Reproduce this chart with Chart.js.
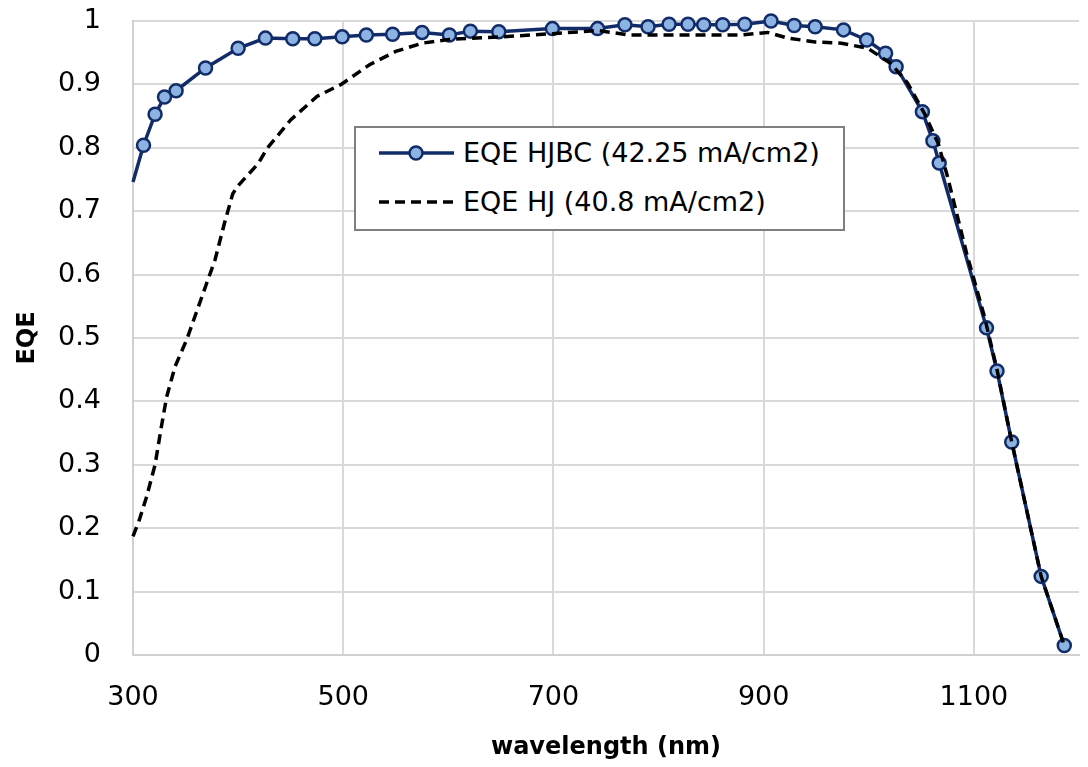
<!DOCTYPE html>
<html>
<head>
<meta charset="utf-8">
<script src="https://cdn.jsdelivr.net/npm/chart.js@4/dist/chart.umd.min.js"></script>
<style>
body { margin: 0; background: #fff; }
#wrap { position: relative; width: 1088px; height: 767px; }
#legend { position: absolute; left: 354px; top: 126px; width: 491px; height: 105px;
  border: 2px solid #7f7f7f; background: #fff; box-sizing: border-box;
  font-family: "DejaVu Sans", sans-serif; font-size: 27px; color: #000; }
#legend .row { position: absolute; left: 0; height: 32px; line-height: 32px; white-space: nowrap; }
#legend svg { position: absolute; left: 22px; top: 0; }
#legend span { position: absolute; left: 107px; top: 0; }
</style>
</head>
<body>
<div id="wrap">
  <canvas id="myChart" width="1088" height="767"></canvas>
  <div id="legend">
    <div class="row" style="top:9px">
      <svg width="80" height="32"><line x1="1" y1="16" x2="76" y2="16" stroke="#122c69" stroke-width="3.5"/><circle cx="38" cy="16" r="6.5" fill="#8db3e2" stroke="#122c69" stroke-width="2.5"/></svg>
      <span>EQE HJBC (42.25 mA/cm2)</span>
    </div>
    <div class="row" style="top:58px">
      <svg width="80" height="32"><line x1="1" y1="16" x2="76" y2="16" stroke="#000" stroke-width="3.5" stroke-dasharray="10,6"/></svg>
      <span>EQE HJ (40.8 mA/cm2)</span>
    </div>
  </div>
</div>
<script>
// EQE HJBC (with markers)
var hjbcWl  = [300, 310, 321, 330, 341, 369, 400, 426, 452, 473, 499, 522, 547, 575, 601, 621, 648, 699, 742, 768,
               790, 810, 828, 843, 861, 882, 907, 929, 949, 976, 998, 1016, 1026, 1051, 1061, 1067, 1112, 1122, 1136, 1164, 1186];
var hjbcEqe = [0.746, 0.804, 0.853, 0.880, 0.890, 0.926, 0.957, 0.973, 0.972, 0.972, 0.975, 0.978, 0.979, 0.982, 0.978, 0.984, 0.983, 0.988, 0.988, 0.994,
               0.991, 0.995, 0.995, 0.994, 0.994, 0.995, 1.000, 0.993, 0.991, 0.986, 0.970, 0.949, 0.928, 0.857, 0.811, 0.776, 0.516, 0.448, 0.336, 0.124, 0.015];
// EQE HJ (dashed)
var hjWl  = [300, 306, 313, 321, 327, 332, 340, 351, 360, 370, 378, 387, 395, 401, 419, 428, 450, 475, 498, 525, 550, 575, 601,
             651, 699, 742, 772, 816, 879, 904, 923, 949, 974, 999, 1021, 1037, 1053, 1066, 1075, 1093, 1110, 1122, 1136, 1164, 1186];
var hjEqe = [0.187, 0.213, 0.25, 0.30, 0.36, 0.407, 0.455, 0.497, 0.539, 0.586, 0.623, 0.681, 0.728, 0.742, 0.775, 0.80, 0.844, 0.881, 0.90, 0.931, 0.952, 0.965, 0.971,
             0.975, 0.98, 0.985, 0.978, 0.978, 0.978, 0.982, 0.973, 0.967, 0.965, 0.957, 0.933, 0.902, 0.854, 0.807, 0.754, 0.634, 0.534, 0.45, 0.336, 0.124, 0.015];

var xLabels = [300, 500, 700, 900, 1100];

function pts(xs, ys) { return xs.map(function(x, i) { return {x: x, y: ys[i]}; }); }
function isMajor(v) { return xLabels.indexOf(v) >= 0; }

var tickFont = {family: "DejaVu Sans", size: 27};
var titleFont = {family: "DejaVu Sans", size: 24, weight: 'bold'};

var ctx = document.getElementById("myChart").getContext('2d');
new Chart(ctx, {
    type: 'line',
    data: {
        datasets: [
            {
                label: 'EQE HJ (40.8 mA/cm2)',
                data: pts(hjWl, hjEqe),
                borderColor: '#000',
                borderWidth: 3.5,
                borderDash: [10, 6],
                pointRadius: 0,
                tension: 0,
                clip: false
            },
            {
                label: 'EQE HJBC (42.25 mA/cm2)',
                data: pts(hjbcWl, hjbcEqe),
                borderColor: '#122c69',
                borderWidth: 3.5,
                backgroundColor: '#8db3e2',
                pointBackgroundColor: '#8db3e2',
                pointBorderColor: '#122c69',
                pointBorderWidth: 2.5,
                pointRadius: function(c) { return c.dataIndex === 0 ? 0 : 6.5; },
                tension: 0,
                clip: false
            }
        ]
    },
    options: {
        responsive: false,
        animation: false,
        devicePixelRatio: 1,
        layout: {padding: {left: 0, right: 6, top: 21, bottom: 0}},
        plugins: {legend: {display: false}, tooltip: {enabled: false}},
        scales: {
            x: {
                type: 'linear',
                min: 300, max: 1200,
                afterFit: function(s) { s.height = 112; s.paddingLeft = 0; s.paddingRight = 0; },
                ticks: {stepSize: 100, autoSkip: false, font: tickFont, color: '#000', padding: 27, maxRotation: 0,
                        callback: function(v) { return isMajor(v) ? String(v) : ''; }},
                grid: {lineWidth: 2, drawTicks: false,
                       color: function(c) { return c.tick && isMajor(c.tick.value) ? '#d9d9d9' : 'rgba(0,0,0,0)'; }},
                border: {color: '#d0d0d0', width: 2},
                title: {display: true, text: 'wavelength (nm)', font: titleFont, color: '#000', padding: {top: 0, bottom: 5}}
            },
            y: {
                min: 0, max: 1,
                afterFit: function(s) { s.width = 133; s.paddingTop = 0; s.paddingBottom = 0; },
                ticks: {stepSize: 0.1, font: tickFont, color: '#000', padding: 32,
                        callback: function(v) { return String(Math.round(v * 10) / 10); }},
                grid: {color: '#d9d9d9', lineWidth: 2, drawTicks: false},
                border: {color: '#d0d0d0', width: 2},
                title: {display: true, text: 'EQE', font: titleFont, color: '#000', padding: {top: 13, bottom: 0}}
            }
        }
    }
});
</script>
</body>
</html>
